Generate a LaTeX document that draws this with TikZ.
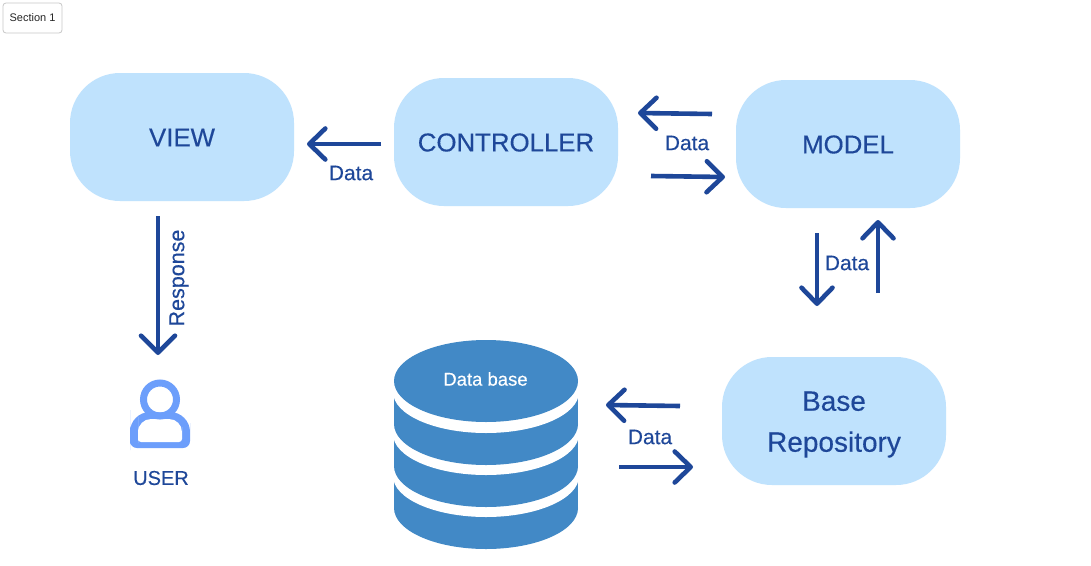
\documentclass[tikz,border=0pt]{standalone}
\usepackage{fontspec}
\setmainfont{Liberation Sans}
\newfontfamily\medfont[FakeBold=0.3]{Liberation Sans}
\usetikzlibrary{arrows.meta}
\definecolor{boxfill}{HTML}{BFE2FD}
\definecolor{ink}{HTML}{1E4799}
\definecolor{dbblue}{HTML}{4289C6}
\definecolor{usericon}{HTML}{6C9EFB}
\tikzset{
  box/.style={rectangle,draw=none,fill=boxfill,rounded corners=50pt,minimum width=224pt,minimum height=128pt,inner sep=0pt},
  boxtext/.style={inner sep=0pt,text=ink,align=center,font=\medfont\fontsize{25.8}{30}\selectfont},
  flow/.style={draw=ink,line width=4.6pt,-{Straight Barb[round,length=16pt,width=31pt]}},
  lbl/.style={inner sep=0pt,text=ink,font=\medfont\fontsize{21}{25}\selectfont},
  dbpart/.style={fill=dbblue,draw=none},
}
\begin{document}
\begin{tikzpicture}[x=1pt,y=-1pt]
\useasboundingbox (0,0) rectangle (1091,565);
\fill[white] (0,0) rectangle (1091,565);
% section button
\node[draw=black!22,line width=0.8pt,rounded corners=3pt,minimum width=59pt,minimum height=30pt,inner sep=0pt,font=\fontsize{11}{13}\selectfont,text=black!85] (section) at (32.5,18) {Section 1};
% boxes
\node[box] (view) at (182,137) {};
\node[boxtext] (viewt) at (182,137.5) {VIEW};
\node[box] (controller) at (506,142) {};
\node[boxtext] (controllert) at (506,142.5) {CONTROLLER};
\node[box] (model) at (848,144) {};
\node[boxtext] (modelt) at (848,144.5) {MODEL};
\node[box] (repo) at (834,421) {};
\node[boxtext,font=\medfont\fontsize{28}{41}\selectfont] (repot) at (834,424.5) {Base\\Repository};
% database
\fill[dbpart] (394,476) rectangle (578,508);
\fill[dbpart] (486,508) ellipse [x radius=92,y radius=41];
\fill[white] (486,476) ellipse [x radius=93,y radius=41];
\fill[dbpart] (394,434) rectangle (578,466);
\fill[dbpart] (486,466) ellipse [x radius=92,y radius=41];
\fill[white] (486,434) ellipse [x radius=93,y radius=41];
\fill[dbpart] (394,392) rectangle (578,424);
\fill[dbpart] (486,424) ellipse [x radius=92,y radius=41];
\fill[white] (486,392) ellipse [x radius=93,y radius=41];
\fill[dbpart] (486,381) ellipse [x radius=92,y radius=41];
\node[inner sep=0pt,text=white,font=\medfont\fontsize{18.5}{22}\selectfont] (dblabel) at (485.5,379) {Data base};
% user icon
\fill[usericon] (160,448) [rounded corners=7pt] -- (190,448) -- (190,430) [rounded corners=20pt] -- (190,412) -- (130,412) -- (130,430) [rounded corners=7pt] -- (130,448) -- cycle;
\fill[white] (160,442) [rounded corners=3pt] -- (182,442) -- (182,430) [rounded corners=13pt] -- (182,419) -- (138,419) -- (138,430) [rounded corners=3pt] -- (138,442) -- cycle;
\fill[white] (160,399.5) circle (13);
\draw[usericon,line width=7pt] (160,399.5) circle (16.5);
\node[inner sep=0pt,text=ink,font=\medfont\fontsize{20}{24}\selectfont] (user) at (161,478) {USER};
% free ends
\coordinate (a1s) at (381,144); \coordinate (a1e) at (307,144);
\coordinate (a2s) at (712,114); \coordinate (a2e) at (638,113);
\coordinate (a3s) at (651,176); \coordinate (a3e) at (725,177);
\coordinate (a4s) at (817,233); \coordinate (a4e) at (817,306);
\coordinate (a5s) at (878,293); \coordinate (a5e) at (878,220);
\coordinate (a6s) at (680,406); \coordinate (a6e) at (606,405);
\coordinate (a7s) at (619,467); \coordinate (a7e) at (693,467);
\coordinate (a8s) at (158,216); \coordinate (a8e) at (158,355);
\draw[flow] (a1s) -- (a1e);
\draw[flow] (a2s) -- (a2e);
\draw[flow] (a3s) -- (a3e);
\draw[flow] (a4s) -- (a4e);
\draw[flow] (a5s) -- (a5e);
\draw[flow] (a6s) -- (a6e);
\draw[flow] (a7s) -- (a7e);
\draw[flow,-{Straight Barb[round,length=17pt,width=34pt]}] (a8s) -- (a8e);
% labels
\node[lbl] (d1) at (351,173) {Data};
\node[lbl] (d2) at (687,143) {Data};
\node[lbl] (d3) at (847,263) {Data};
\node[lbl] (d4) at (650,437) {Data};
\node[lbl,rotate=90,font=\medfont\fontsize{21.5}{25}\selectfont] (resp) at (179,278) {Response};
\end{tikzpicture}
\end{document}
